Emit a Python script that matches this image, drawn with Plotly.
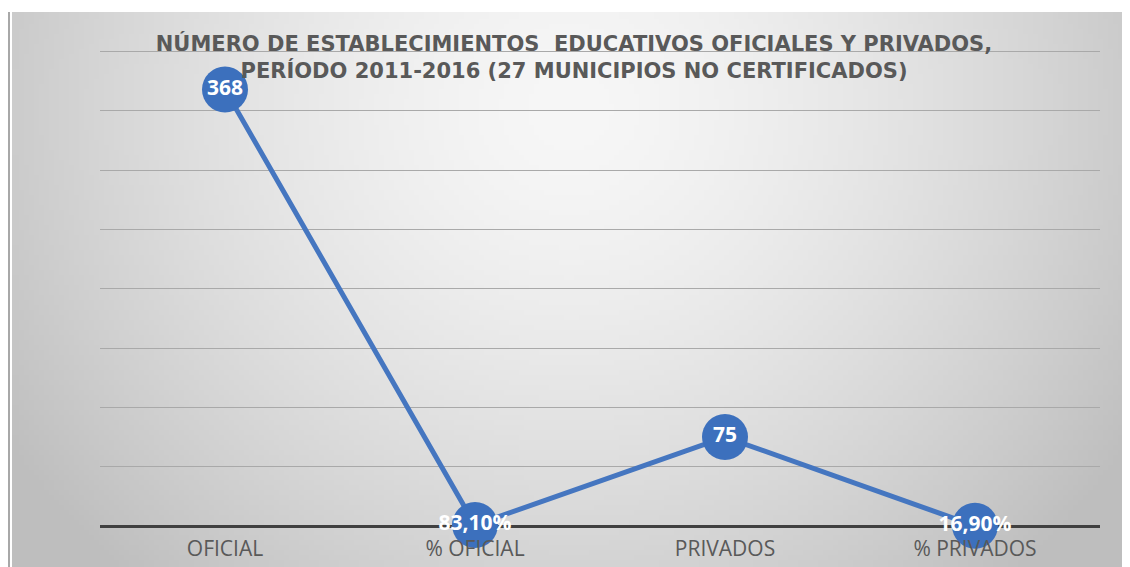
import base64
import struct
import zlib
import math

import plotly.graph_objects as go

categorias = ["OFICIAL", "% OFICIAL", "PRIVADOS", "% PRIVADOS"]
valores = [368, 0.831, 75, 0.169]
etiquetas = ["368", "83,10%", "75", "16,90%"]

titulo = ("NÚMERO DE ESTABLECIMIENTOS  EDUCATIVOS OFICIALES Y PRIVADOS,<br>"
          "PERÍODO 2011-2016 (27 MUNICIPIOS NO CERTIFICADOS)")

# the page body has an 8px margin, so the figure is 8px smaller than the window
OFF = 8
W, H = 1130 - OFF, 567 - OFF
ML, MR, MT, MB = 100 - OFF, 30, 40, 41
PW, PH = W - ML - MR, H - MT - MB


def gradient_png(w, h, scale):
    # radial grey gradient like the excel chart area fill
    cx, cy, rx, ry = 570, 110, 600, 560
    rows = []
    for j in range(h):
        row = bytearray([0])
        for i in range(w):
            x = 12 + (i + 0.5) * scale
            y = 12 + (j + 0.5) * scale
            d = math.sqrt(((x - cx) / rx) ** 2 + ((y - cy) / ry) ** 2)
            v = int(max(190, 247 - 48 * d ** 1.5))
            row += bytes([v, v, v])
        rows.append(bytes(row))
    raw = b"".join(rows)

    def chunk(tag, data):
        c = struct.pack(">I", len(data)) + tag + data
        return c + struct.pack(">I", zlib.crc32(tag + data) & 0xffffffff)

    png = b"\x89PNG\r\n\x1a\n"
    png += chunk(b"IHDR", struct.pack(">IIBBBBB", w, h, 8, 2, 0, 0, 0))
    png += chunk(b"IDAT", zlib.compress(raw, 9))
    png += chunk(b"IEND", b"")
    return "data:image/png;base64," + base64.b64encode(png).decode()


bg = gradient_png(224, 111, 5)


def px_x(px):
    # reference pixel -> paper coordinate
    return (px - OFF - ML) / PW


def px_y(py):
    return (H - MB - (py - OFF)) / PH


fig = go.Figure()
fig.add_trace(go.Scatter(
    x=categorias, y=valores, mode="lines+markers+text",
    text=etiquetas, textposition="middle center",
    textfont=dict(family="Open Sans", size=21, color="white", weight="bold"),
    line=dict(color="#4576c0", width=5),
    marker=dict(size=46, color="#3c70bd"),
    cliponaxis=False, hoverinfo="skip",
))

fig.add_layout_image(dict(
    source=bg, xref="paper", yref="paper",
    x=px_x(12), y=px_y(12),
    sizex=(1130 - 12) / PW, sizey=(567 - 12) / PH,
    xanchor="left", yanchor="top", sizing="stretch", layer="below",
))

# left border of the chart object
fig.add_shape(type="line", xref="paper", yref="paper",
              x0=px_x(9), x1=px_x(9), y0=px_y(12), y1=px_y(567),
              line=dict(color="#a8a8a8", width=2))

fig.update_layout(
    width=W, height=H,
    margin=dict(l=ML, r=MR, t=MT, b=MB),
    paper_bgcolor="white", plot_bgcolor="rgba(0,0,0,0)",
    showlegend=False,
    title=dict(text=titulo, x=(574 - OFF) / W, xanchor="center",
               y=1 - (51 - OFF) / H, yanchor="middle", automargin=False,
               font=dict(family="DejaVu Sans", size=21, color="#595959", weight="bold")),
)
fig.update_xaxes(
    showgrid=False, showline=False, zeroline=False, ticks="",
    tickfont=dict(family="Open Sans", size=21, color="#595959"),
    ticklabelstandoff=8, automargin=False,
    range=[-0.5, 3.5],
)
fig.update_yaxes(
    range=[0, 403], dtick=50, showticklabels=False, ticks="",
    showgrid=True, gridcolor="#a9a9a9", gridwidth=1,
    zeroline=True, zerolinecolor="#404040", zerolinewidth=3,
    showline=False, automargin=False,
)

fig.write_html("out.html")
